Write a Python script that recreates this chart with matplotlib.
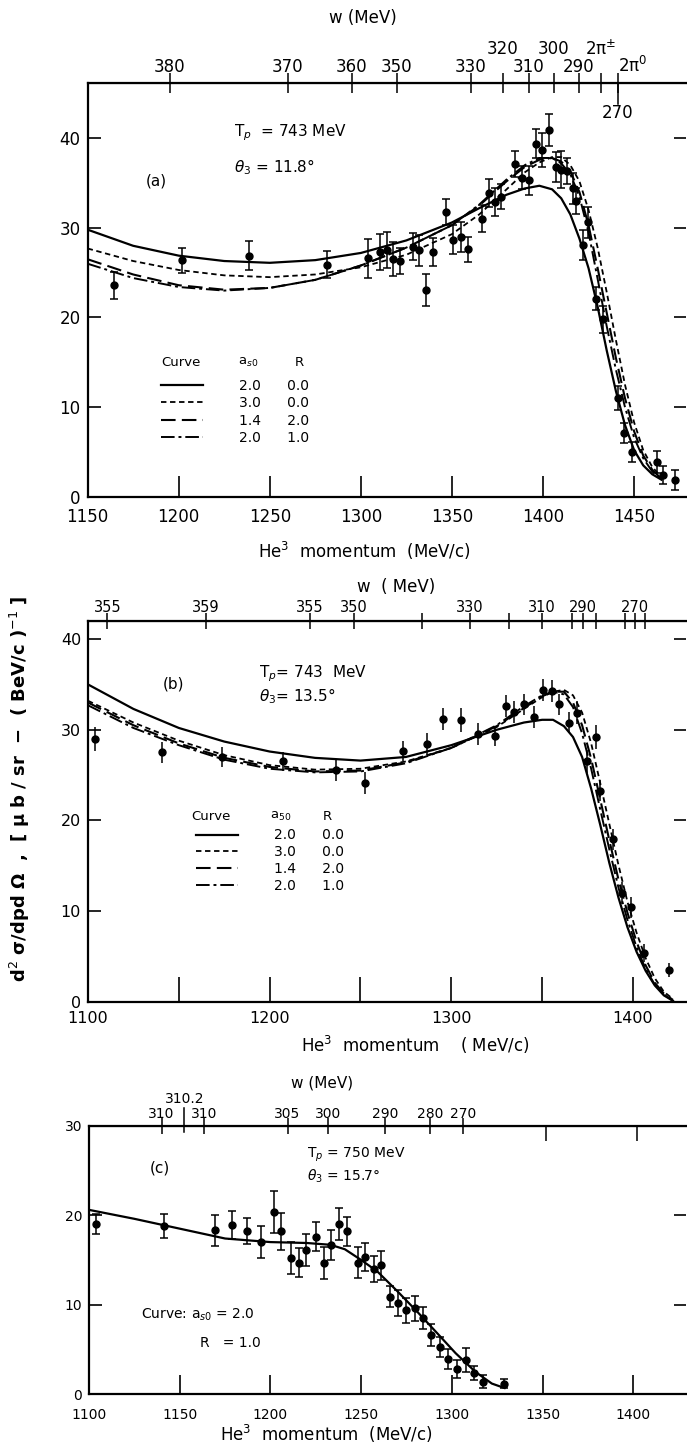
import matplotlib
matplotlib.use("Agg")
import matplotlib.pyplot as plt

plt.rcParams['font.family'] = ['DejaVu Sans']
plt.rcParams['mathtext.fontset'] = 'dejavusans'

# ---------------- panel (a): Tp = 743 MeV, theta3 = 11.8 deg ----------------
a_p = [1164.6, 1202.0, 1238.5, 1281.5, 1303.7, 1310.6, 1314.5, 1317.8, 1321.5, 1328.6,
       1331.9, 1335.8, 1339.7, 1346.7, 1350.8, 1355.0, 1358.6, 1366.7, 1370.4, 1373.6,
       1376.9, 1384.9, 1388.2, 1392.1, 1396.0, 1399.3, 1403.2, 1406.9, 1410.1, 1413.4,
       1416.6, 1418.2, 1422.1, 1424.7, 1429.0, 1432.7, 1441.0, 1444.7, 1448.6, 1462.7,
       1466.0, 1472.5]
a_y = [23.6, 26.4, 26.9, 25.9, 26.6, 27.3, 27.5, 26.5, 26.3, 27.9,
       27.5, 23.1, 27.3, 31.8, 28.7, 29.0, 27.6, 31.0, 33.9, 32.9,
       33.5, 37.1, 35.6, 35.3, 39.4, 38.7, 40.9, 36.8, 36.5, 36.4,
       34.4, 33.0, 28.1, 30.6, 22.1, 19.8, 11.0, 7.1, 5.0, 3.9,
       2.4, 1.9]
a_err = [1.5, 1.4, 1.6, 1.5, 2.2, 2.0, 2.0, 1.9, 1.4, 1.5,
         1.7, 1.8, 1.6, 1.45, 1.6, 1.7, 1.4, 1.5, 1.6, 1.6,
         1.4, 1.45, 1.3, 1.6, 1.6, 1.9, 1.8, 1.7, 2.1, 1.45,
         1.7, 1.4, 1.7, 1.7, 1.3, 1.5, 1.3, 1.1, 1.1, 1.2,
         1.0, 1.1]
a_curve_p = [1150, 1175, 1200, 1225, 1250, 1275, 1300, 1325, 1350, 1365, 1380, 1390, 1398,
             1405, 1410, 1415, 1420, 1425, 1430, 1435, 1440, 1445, 1450, 1455, 1460, 1465]
a_solid = [29.8, 28.0, 26.9, 26.3, 26.1, 26.4, 27.2, 28.6, 30.6, 32.2, 33.7, 34.4, 34.7,
           34.3, 33.3, 31.5, 28.8, 25.5, 21.2, 16.3, 11.8, 8.0, 5.2, 3.5, 2.5, 1.9]
a_dotted = [27.7, 26.3, 25.3, 24.7, 24.5, 24.8, 25.6, 27.0, 29.3, 31.5, 34.3, 36.2, 37.3,
            37.9, 37.9, 37.0, 35.2, 32.0, 27.8, 22.8, 17.5, 12.5, 8.3, 5.2, 3.3, 2.2]
a_longdash = [26.5, 24.8, 23.6, 23.1, 23.3, 24.2, 25.8, 27.8, 30.3, 32.5, 35.2, 36.8, 37.6,
              37.8, 37.4, 36.3, 34.0, 30.3, 25.5, 20.5, 15.5, 11.0, 7.3, 4.6, 3.0, 2.0]
a_dashdot = [26.0, 24.4, 23.4, 23.0, 23.3, 24.2, 25.8, 27.8, 30.3, 32.6, 35.4, 37.0, 37.8,
             37.8, 37.2, 36.0, 33.5, 29.5, 24.3, 19.0, 14.2, 10.0, 6.6, 4.3, 2.8, 1.9]
# w scale on top of (a): lower row of labels, then the raised row
a_w_pos = [1195.2, 1260.0, 1295.0, 1319.6, 1360.4, 1392.3, 1419.5, 1441.2]
a_w_lab = ['380', '370', '360', '350', '330', '310', '290', '2π$^0$']
a_w_hi_pos = [1377.8, 1406.0, 1431.9]
a_w_hi_lab = ['320', '300', '2π$^{\\pm}$']

# ---------------- panel (b): Tp = 743 MeV, theta3 = 13.5 deg ----------------
b_p = [1103.7, 1140.6, 1173.5, 1207.2, 1236.6, 1252.3, 1273.2, 1286.5, 1295.5, 1305.3,
       1314.9, 1324.2, 1330.3, 1334.5, 1340.0, 1345.6, 1350.4, 1355.3, 1359.3, 1364.7,
       1369.0, 1374.8, 1379.6, 1382.0, 1389.2, 1394.0, 1399.0, 1406.0, 1420.1]
b_y = [29.0, 27.5, 27.0, 26.5, 25.6, 24.1, 27.7, 28.4, 31.2, 31.1,
       29.5, 29.3, 32.6, 32.0, 32.8, 31.4, 34.4, 34.3, 32.8, 30.8,
       31.9, 26.5, 29.2, 23.3, 17.9, 12.0, 10.4, 5.4, 3.5]
b_err = [1.3, 1.2, 1.1, 1.1, 1.2, 1.2, 1.1, 1.2, 1.25, 1.3,
         1.2, 1.1, 1.2, 1.2, 1.2, 1.2, 1.2, 1.2, 1.2, 1.2,
         1.3, 1.3, 1.3, 1.2, 1.2, 1.2, 1.2, 1.0, 0.8]
b_curve_p = [1100, 1125, 1150, 1175, 1200, 1225, 1250, 1275, 1300, 1325, 1340, 1350, 1356,
             1362, 1367, 1372, 1377, 1382, 1387, 1392, 1397, 1402, 1407, 1412, 1417, 1422]
b_solid = [35.0, 32.3, 30.2, 28.7, 27.6, 26.9, 26.6, 27.0, 28.3, 30.0, 30.8, 31.1, 31.1,
           30.4, 29.2, 27.0, 23.5, 19.5, 15.3, 11.5, 8.2, 5.5, 3.4, 1.8, 0.7, 0.1]
b_dotted = [33.2, 30.8, 28.8, 27.2, 26.1, 25.6, 25.7, 26.5, 28.0, 30.3, 32.3, 33.6, 34.2,
            34.4, 33.8, 31.9, 28.5, 24.1, 19.6, 15.1, 11.0, 7.6, 4.8, 2.6, 1.1, 0.3]
b_longdash = [33.0, 30.5, 28.5, 26.9, 25.9, 25.4, 25.5, 26.4, 28.0, 30.4, 32.4, 33.7, 34.2,
              34.2, 33.0, 30.5, 26.8, 22.3, 17.8, 13.5, 9.8, 6.6, 4.0, 2.1, 0.9, 0.2]
b_dashdot = [32.7, 30.2, 28.3, 26.7, 25.7, 25.3, 25.4, 26.3, 28.0, 30.5, 32.6, 33.8, 34.2,
             33.9, 32.5, 29.6, 25.7, 21.2, 16.8, 12.6, 9.0, 6.0, 3.6, 1.9, 0.8, 0.1]
b_w_pos = [1110.6, 1165.0, 1222.2, 1246.6, 1310.4, 1349.7, 1372.5, 1401.0]
b_w_lab = ['355', '359', '355', '350', '330', '310', '290', '270']
b_w_minor = [1284.0, 1331.6, 1366.6, 1379.4, 1395.6, 1406.4]

# ---------------- panel (c): Tp = 750 MeV, theta3 = 15.7 deg ----------------
c_p = [1104.1, 1141.2, 1169.2, 1178.6, 1187.3, 1195.0, 1202.0, 1205.9, 1211.1, 1215.5,
       1219.4, 1224.9, 1229.7, 1233.6, 1237.6, 1242.4, 1248.3, 1252.2, 1257.0, 1261.0,
       1265.8, 1270.3, 1274.7, 1279.5, 1283.9, 1288.7, 1293.7, 1298.1, 1302.9, 1307.9,
       1312.3, 1317.1, 1328.7]
c_y = [19.0, 18.8, 18.3, 18.9, 18.2, 17.0, 20.4, 18.2, 15.2, 14.7,
       16.1, 17.6, 14.7, 16.7, 19.0, 18.2, 14.7, 15.3, 14.0, 14.4,
       10.9, 10.2, 9.4, 9.6, 8.5, 6.6, 5.3, 3.95, 2.8, 3.85,
       2.4, 1.4, 1.2]
c_err = [1.1, 1.3, 1.7, 1.6, 1.45, 1.8, 2.35, 2.1, 1.8, 1.6,
         1.8, 1.6, 1.8, 1.7, 1.8, 1.6, 1.7, 1.55, 1.5, 1.6,
         1.15, 1.4, 1.4, 1.4, 1.25, 1.2, 1.1, 1.1, 1.0, 1.35,
         0.75, 0.75, 0.55]
c_curve_p = [1100, 1125, 1150, 1175, 1200, 1220, 1233, 1241, 1250, 1259, 1270, 1281, 1292,
             1302, 1313, 1322, 1329]
c_curve = [20.6, 19.6, 18.5, 17.4, 17.0, 16.9, 16.7, 16.2, 15.0, 13.7, 11.5, 9.2, 6.8,
           4.6, 2.5, 1.2, 0.7]
c_w_pos = [1140.0, 1163.5, 1209.4, 1231.9, 1263.1, 1288.1, 1306.2]
c_w_lab = ['310', '310', '305', '300', '290', '280', '270']
c_w_hi_pos = 1152.5
c_w_hi_lab = '310.2'
c_w_minor = [1351.8, 1401.9]

legend_a = ['2.0', '3.0', '1.4', '2.0']
legend_r = ['0.0', '0.0', '2.0', '1.0']

styles = [dict(ls='-', lw=1.6),
          dict(ls=(0, (3, 2)), lw=1.3),
          dict(ls=(0, (7, 3)), lw=1.5),
          dict(ls=(0, (7, 2, 1.5, 2)), lw=1.4)]

W, H = 687, 1447
fig = plt.figure(figsize=(W / 100, H / 100), dpi=100)


def px_axes(l, t, r, b):
    return fig.add_axes([l / W, 1 - b / H, (r - l) / W, (b - t) / H])


def style(ax, xlim, ylim, xticks, yticks, fs, xpad, xlen):
    ax.set_xlim(xlim)
    ax.set_ylim(ylim)
    ax.set_xticks(xticks)
    ax.set_yticks(yticks)
    ax.spines['right'].set_visible(False)
    for s in ['left', 'bottom', 'top']:
        ax.spines[s].set_linewidth(1.6)
    ax.tick_params(axis='x', which='both', direction='in', length=xlen, width=1.2,
                   labelsize=fs, pad=xpad)
    ax.tick_params(axis='y', direction='in', length=9, width=1.2, labelsize=fs,
                   right=True, pad=5)


ax_a = px_axes(87.6, 82.7, 686, 496.7)
ax_b = px_axes(88, 621, 686, 1001.7)
ax_c = px_axes(89, 1125.7, 686, 1394.3)

# ---- panel a ----
handles = []
for yy, st in zip([a_solid, a_dotted, a_longdash, a_dashdot], styles):
    ln, = ax_a.plot(a_curve_p, yy, color='k', **st)
    handles.append(ln)
ax_a.errorbar(a_p, a_y, yerr=a_err, fmt='o', ms=5, color='k', elinewidth=1.1,
              capsize=3, capthick=1.1)
style(ax_a, (1150, 1478.5), (0, 46.2), range(1150, 1451, 50), range(0, 41, 10), 12, 8, 15)
ax_a.set_xlabel('He$^3$  momentum  (MeV/c)', fontsize=12)
ax_a.xaxis.set_label_coords(0.463, -0.105)
top = ax_a.secondary_xaxis('top')
top.set_xticks(a_w_pos + a_w_hi_pos, labels=a_w_lab + [''] * len(a_w_hi_pos))
top.set_xticks(a_w_hi_pos, minor=True)
top.tick_params(which='major', direction='inout', length=14, width=1.1, labelsize=12, pad=-2)
top.tick_params(which='minor', direction='out', length=24, width=1.1)
top.get_xticklabels()[len(a_w_pos) - 1].set_ha('left')
tr = ax_a.get_xaxis_transform()
for xp, lab in zip(a_w_hi_pos, a_w_hi_lab):
    ax_a.text(xp, 1.082, lab, transform=tr, ha='center', va='center', fontsize=12)
ax_a.axvline(1441.2, ymin=1 - 21 / 414, ymax=1, color='k', lw=1.1)
ax_a.text(1441.2, 42.8, '270', ha='center', va='center', fontsize=12)
fig.text(363 / W, 1 - 18 / H, 'w (MeV)', ha='center', va='center', fontsize=12)
ax_a.text(1230.4, 40.6, 'T$_p$  = 743 MeV', fontsize=11, va='center')
ax_a.text(1230.4, 36.8, '$\\theta_3$ = 11.8°', fontsize=11, va='center')
ax_a.text(1187.5, 35.2, '(a)', fontsize=11, ha='center', va='center')
ax_a.text(1190.3, 15.0, 'Curve', fontsize=9.5, va='center')
ax_a.text(1232.6, 15.0, 'a$_{s0}$', fontsize=9.5, va='center')
ax_a.text(1263.9, 15.0, 'R', fontsize=9.5, va='center')
ax_a.legend(handles, [f'{a}      {r}' for a, r in zip(legend_a, legend_r)],
            loc='upper left', bbox_to_anchor=(0.1227, 0.285), frameon=False, fontsize=10,
            handlelength=3.0, handletextpad=2.6, labelspacing=0.25, borderpad=0,
            borderaxespad=0)

# ---- panel b ----
handles = []
for yy, st in zip([b_solid, b_dotted, b_longdash, b_dashdot], styles):
    ln, = ax_b.plot(b_curve_p, yy, color='k', **st)
    handles.append(ln)
ax_b.errorbar(b_p, b_y, yerr=b_err, fmt='o', ms=5, color='k', elinewidth=1.1, capsize=0)
style(ax_b, (1100, 1429.2), (0, 42.0), range(1100, 1401, 100), range(0, 41, 10), 11.5, 7, 18)
ax_b.set_xticks(range(1150, 1401, 100), minor=True)
ax_b.set_xlabel('He$^3$  momentum    ( MeV/c)', fontsize=12)
ax_b.xaxis.set_label_coords(0.548, -0.085)
top = ax_b.secondary_xaxis('top')
top.set_xticks(b_w_pos, labels=b_w_lab)
top.set_xticks(b_w_minor, minor=True)
top.tick_params(which='both', direction='inout', length=12, width=1.1, labelsize=10.5, pad=-2)
fig.text(396.6 / W, 1 - 586.7 / H, 'w  ( MeV)', ha='center', va='center', fontsize=12)
ax_b.text(1194, 36.2, 'T$_p$= 743  MeV', fontsize=11, va='center')
ax_b.text(1194, 33.7, '$\\theta_3$= 13.5°', fontsize=11, va='center')
ax_b.text(1146.8, 35.0, '(b)', fontsize=11, ha='center', va='center')
ax_b.text(1156.7, 20.4, 'Curve', fontsize=9.5, va='center')
ax_b.text(1200.0, 20.4, 'a$_{50}$', fontsize=9.5, va='center')
ax_b.text(1229.5, 20.4, 'R', fontsize=9.5, va='center')
ax_b.legend(handles, [f'{a}      {r}' for a, r in zip(legend_a, legend_r)],
            loc='upper left', bbox_to_anchor=(0.181, 0.455), frameon=False, fontsize=10,
            handlelength=3.0, handletextpad=2.6, labelspacing=0.2, borderpad=0,
            borderaxespad=0)
fig.text(0.029, 0.455, 'd$^2$ σ/dpd Ω  ,  [ μ b / sr  −  ( BeV/c )$^{-1}$ ]', rotation=90,
         ha='center', va='center', fontsize=13, fontweight='bold')

# ---- panel c ----
ax_c.plot(c_curve_p, c_curve, color='k', lw=1.6)
ax_c.errorbar(c_p, c_y, yerr=c_err, fmt='o', ms=5, color='k', elinewidth=1.1,
              capsize=3, capthick=1.1)
style(ax_c, (1100, 1429.0), (0, 30.0), range(1100, 1401, 50), range(0, 31, 10), 10, 10, 14)
ax_c.set_xlabel('He$^3$  momentum  (MeV/c)', fontsize=12)
ax_c.xaxis.set_label_coords(0.397, -0.105)
top = ax_c.secondary_xaxis('top')
top.set_xticks(c_w_pos, labels=c_w_lab)
top.set_xticks(c_w_minor, minor=True)
top.tick_params(which='major', direction='inout', length=11, width=1.1, labelsize=10, pad=-2)
top.tick_params(which='minor', direction='in', length=11, width=1.1)
ax_c.axvline(c_w_hi_pos, ymin=1 - 6 / 268.6, ymax=1 + 18 / 268.6, color='k', lw=1.1,
             clip_on=False)
ax_c.text(c_w_hi_pos, 1.1, c_w_hi_lab, transform=ax_c.get_xaxis_transform(),
          ha='center', va='center', fontsize=10)
fig.text(322 / W, 1 - 1083 / H, 'w (MeV)', ha='center', va='center', fontsize=11)
ax_c.text(1139, 25.3, '(c)', fontsize=11, ha='center', va='center')
ax_c.text(1220.3, 26.7, 'T$_p$ = 750 MeV', fontsize=10, va='center')
ax_c.text(1220.3, 24.3, '$\\theta_3$ = 15.7°', fontsize=10, va='center')
ax_c.text(1128.7, 8.86, 'Curve: a$_{s0}$ = 2.0', fontsize=10, va='center')
ax_c.text(1161.3, 5.7, 'R   = 1.0', fontsize=10, va='center')

fig.savefig('out.png', dpi=100)
